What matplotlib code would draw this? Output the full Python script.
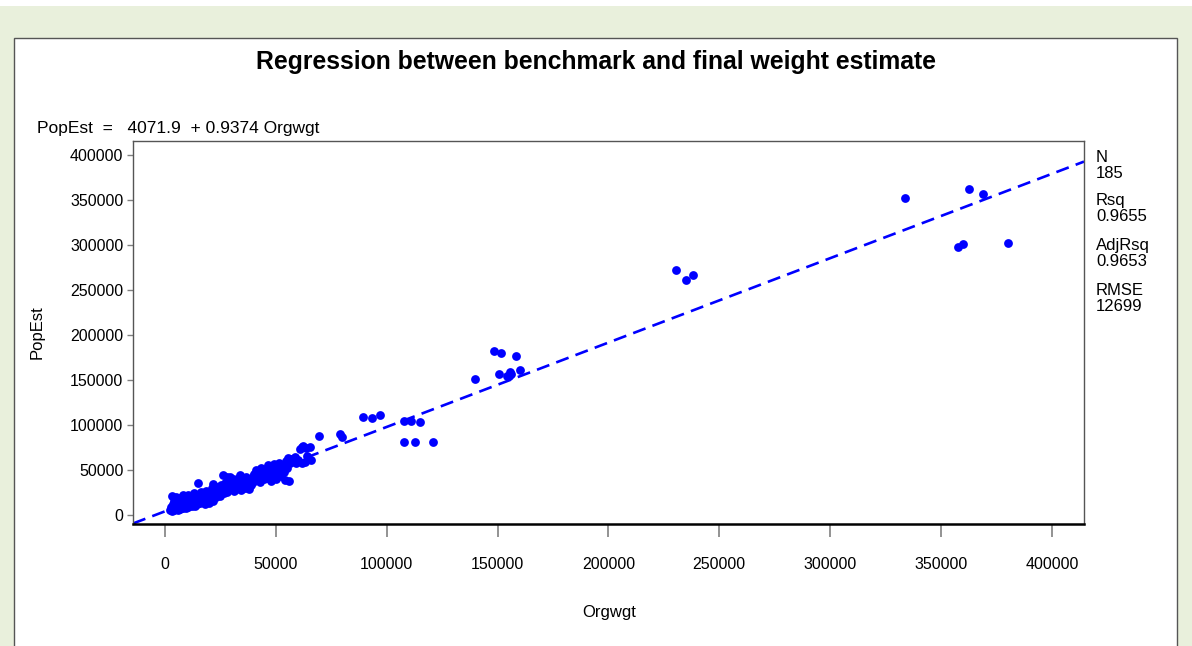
import matplotlib.pyplot as plt
from matplotlib.patches import Rectangle
import numpy as np

plt.rcParams['font.family'] = ['Liberation Sans', 'DejaVu Sans']

# fitted line and fit statistics
intercept = 4071.9
slope = 0.9374
stat_names = ['N', 'Rsq', 'AdjRsq', 'RMSE']
stat_values = ['185', '0.9655', '0.9653', '12699']

# Orgwgt (x) / PopEst (y) pairs
orgwgt = [
    2500, 2800, 3000, 3200, 3500, 3800, 4000, 4300, 4600, 5000, 5200, 5500, 5800, 6000, 6400,
    6800, 7000, 7300, 7700, 8000, 8200, 8600, 9000, 9300, 9700, 10000, 10300, 10600, 11000, 11300,
    11700, 12000, 12400, 12800, 13100, 13500, 13800, 14200, 14600, 15000, 15300, 15700, 16000, 16300, 16700,
    17100, 17500, 17900, 18300, 18700, 19100, 19500, 19900, 20300, 20700, 21100, 21500, 21900, 22300, 22700,
    23200, 23700, 24200, 24700, 3600, 5600, 9500, 18000, 21800,
    25200, 25700, 26200, 26600, 27000, 27400, 27800, 28200, 28600, 29000, 29400, 29800, 30200, 30600, 31000,
    31400, 31800, 32200, 32700, 33100, 33500, 34000, 34400, 34800, 35200, 35700, 36200, 36700, 37200, 37700,
    38200, 38700, 39200, 39700, 40200, 40700, 41200, 41700, 42200, 42700, 43200, 43700, 44200, 44700, 29200,
    33800, 40000,
    45200, 45700, 46200, 46700, 47200, 47700, 48200, 48600, 49000, 49500, 50000, 50500, 51000, 51500, 52000,
    52500, 53000, 53500, 54000, 54500, 55000, 55500, 56000, 56500, 57000, 57800, 58500, 59200, 60000, 60800,
    61600, 62400, 63100, 63800, 64600, 65400, 66000, 62000, 64000,
    69400, 78800, 79800,
    89200, 93300, 97100, 107800, 110900, 115000, 108000, 113000, 120700,
    139700, 148500, 151400, 158300, 150600, 154100, 155000, 155600, 156300, 160100,
    230300, 234800, 238000,
    333600, 362600, 368900, 357500, 359900, 380100,
]
popest = [
    6000, 9000, 21000, 4500, 12000, 7000, 15000, 5500, 9500, 20000, 7500, 11000, 6000, 14000, 9000,
    19000, 6500, 11500, 16000, 8000, 22000, 10500, 13500, 7500, 18000, 11000, 22500, 8500, 15500, 12500,
    20000, 9500, 17000, 13000, 24000, 10500, 19000, 15000, 12000, 36000, 22000, 17500, 13500, 26000, 20000,
    15000, 23500, 12500, 18500, 27000, 16000, 21500, 13500, 24500, 18000, 30000, 15500, 34000, 22000, 27500,
    19500, 31000, 25500, 21000, 9500, 16500, 20500, 23000, 25500,
    33000, 27000, 44000, 24000, 36000, 30500, 42000, 26000, 33500, 38000, 28500, 35000, 31000, 40000, 26500,
    37000, 33000, 29000, 39500, 35000, 31500, 41500, 28000, 36500, 33000, 39000, 30000, 42500, 35500, 28500,
    38000, 33500, 41000, 36500, 44000, 38500, 50000, 42000, 47500, 36500, 52000, 43000, 48000, 39500, 42500,
    44500, 46000,
    45500, 51000, 41000, 55000, 47500, 37500, 53000, 44000, 57000, 49500, 40500, 54500, 46500, 58000, 50000,
    43000, 55500, 48000, 39000, 60000, 52000, 63000, 38000, 57500, 62000, 60000, 64500, 58000, 61500, 73000,
    57500, 77000, 59000, 74500, 63000, 76000, 61000, 75500, 66000,
    87800, 89500, 87000,
    109300, 107400, 110800, 104400, 104400, 103300, 80700, 80700, 80700,
    151400, 182600, 179700, 177000, 156700, 154400, 154400, 158600, 156300, 161100,
    272200, 261000, 266800,
    352200, 362200, 356700, 297400, 301100, 302700,
]

fig = plt.figure(figsize=(11.92, 6.46), dpi=100, facecolor='#e9f0dc')

# white panel behind the graph, and the thin white strip along the top edge
fig.patches.append(Rectangle((14 / 1192, -0.01), 1163 / 1192, 1 - 38 / 646 + 0.01,
                             transform=fig.transFigure, facecolor='white',
                             edgecolor='#555555', linewidth=1.0, zorder=-2))
fig.patches.append(Rectangle((0, 1 - 6 / 646), 1, 6 / 646, transform=fig.transFigure,
                             facecolor='white', edgecolor='none', zorder=-2))

ax = fig.add_axes([133 / 1192, 1 - 524 / 646, 951 / 1192, 383 / 646])
ax.set_zorder(1)
ax.set_xlim(-14400, 414500)
ax.set_ylim(-10000, 415500)

ax.scatter(orgwgt, popest, s=40, color='#0000ff', linewidths=0, zorder=3)

xs = np.array(ax.get_xlim())
ax.plot(xs, intercept + slope * xs, color='#0000ff', linewidth=1.9,
        linestyle=(0, (5.0, 2.8)), zorder=2)

ax.set_xticks(np.arange(0, 400001, 50000))
ax.set_yticks(np.arange(0, 400001, 50000))
ax.tick_params(axis='x', length=9.5, width=1.2, color='#808080', pad=14, labelsize=11.5)
ax.tick_params(axis='y', length=4, width=1.0, color='#808080', pad=3, labelsize=11.5)

for side in ['top', 'right', 'left']:
    ax.spines[side].set_color('#555555')
    ax.spines[side].set_linewidth(1.0)
ax.spines['bottom'].set_color('black')
ax.spines['bottom'].set_linewidth(1.8)

fig.text(596 / 1192, 1 - 62 / 646, 'Regression between benchmark and final weight estimate',
         ha='center', va='center', fontsize=17.8, fontweight='bold')
fig.text(37 / 1192, 1 - 128 / 646, f'PopEst  =   {intercept}  + {slope} Orgwgt',
         ha='left', va='center', fontsize=12.5)
fig.text(37 / 1192, 1 - 332 / 646, 'PopEst', rotation=90, ha='center', va='center', fontsize=12)
fig.text(609 / 1192, 1 - 613 / 646, 'Orgwgt', ha='center', va='center', fontsize=12)

stat_rows = [150, 193, 238, 283]
for name, val, top in zip(stat_names, stat_values, stat_rows):
    fig.text(1096 / 1192, 1 - top / 646, f'{name}\n{val}', ha='left', va='top',
             fontsize=12, linespacing=1.05)

fig.savefig('out.png', dpi=100, facecolor=fig.get_facecolor())
